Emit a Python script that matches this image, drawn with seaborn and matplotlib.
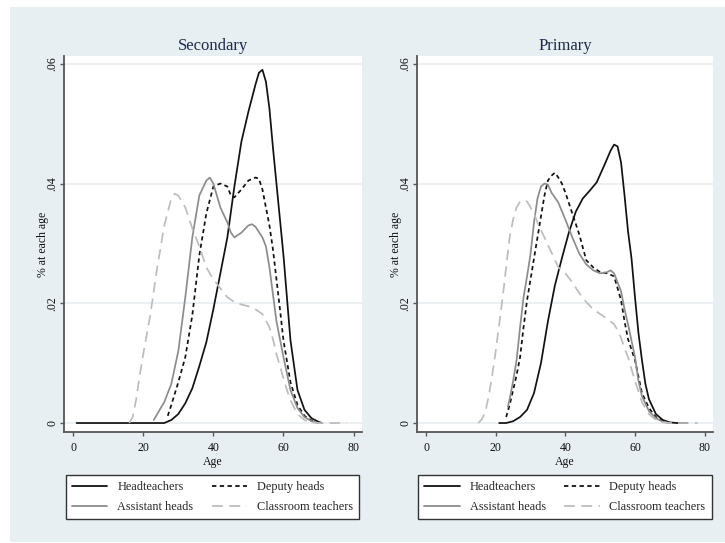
import matplotlib
matplotlib.use("Agg")
import matplotlib.pyplot as plt
from matplotlib.lines import Line2D
from matplotlib.patches import Rectangle
import pandas as pd
import seaborn as sns

# age distributions (share of staff at each age)
sec_head_age = [1, 10, 20, 26, 28, 30, 32, 34, 36, 38, 40, 42, 44, 46, 48, 50, 52, 53, 54, 55,
                56, 57, 58, 60, 62, 64, 66, 68, 70, 71]
sec_head_val = [0, 0, 0, 0, 0.0005, 0.0015, 0.0033, 0.0058, 0.0095, 0.0135, 0.019, 0.025, 0.031,
                0.0395, 0.047, 0.052, 0.0565, 0.0585, 0.059, 0.057, 0.0525, 0.046, 0.040, 0.028,
                0.0138, 0.0055, 0.0022, 0.0008, 0.0002, 0]

sec_dep_age = [27, 28, 30, 32, 34, 36, 38, 40, 42, 44, 45, 46, 48, 50, 52, 53, 54, 55, 56, 57,
               58, 59, 60, 62, 64, 66, 68, 70]
sec_dep_val = [0.0012, 0.003, 0.0068, 0.011, 0.018, 0.028, 0.035, 0.0395, 0.040, 0.0395, 0.038,
               0.0377, 0.039, 0.0405, 0.041, 0.0408, 0.039, 0.036, 0.033, 0.029, 0.024, 0.019,
               0.0138, 0.0068, 0.003, 0.0012, 0.0004, 0]

sec_ast_age = [23, 24, 26, 28, 30, 32, 34, 36, 38, 39, 40, 42, 44, 45, 46, 48, 50, 51, 52, 54,
               55, 56, 57, 58, 60, 62, 64, 66, 68, 70]
sec_ast_val = [0.0005, 0.0015, 0.0035, 0.0065, 0.012, 0.021, 0.031, 0.038, 0.0405, 0.041, 0.040,
               0.036, 0.0335, 0.0318, 0.031, 0.0318, 0.033, 0.0332, 0.0328, 0.031, 0.0295, 0.026,
               0.0215, 0.017, 0.011, 0.0055, 0.0025, 0.001, 0.0003, 0]

sec_cls_age = [16, 17, 18, 19, 20, 22, 24, 26, 28, 29, 30, 32, 34, 36, 38, 40, 42, 44, 46, 48,
               50, 52, 54, 56, 57, 58, 60, 61, 62, 64, 66, 68, 70, 78]
sec_cls_val = [0, 0.001, 0.004, 0.008, 0.0115, 0.018, 0.026, 0.033, 0.0375, 0.0383, 0.038, 0.036,
               0.0325, 0.0295, 0.026, 0.024, 0.0225, 0.021, 0.0202, 0.0198, 0.0195, 0.019, 0.0182,
               0.016, 0.014, 0.0115, 0.0075, 0.0055, 0.0038, 0.0015, 0.0005, 0.0001, 0, 0]

pri_head_age = [21, 23, 25, 27, 29, 31, 33, 35, 37, 39, 41, 43, 45, 47, 49, 51, 53, 54, 55, 56,
                57, 58, 59, 60, 61, 62, 63, 64, 66, 68, 70, 72, 75]
pri_head_val = [0, 0, 0.0003, 0.001, 0.0022, 0.005, 0.010, 0.017, 0.023, 0.0275, 0.0318, 0.0353,
                0.0375, 0.0388, 0.0402, 0.0428, 0.0455, 0.0465, 0.0462, 0.0435, 0.038, 0.032,
                0.0275, 0.021, 0.015, 0.0105, 0.0065, 0.004, 0.0015, 0.0005, 0.0001, 0, 0]

pri_dep_age = [23, 24, 25, 26, 27, 28, 29, 30, 31, 32, 33, 34, 35, 36, 37, 38, 39, 40, 42, 44,
               46, 48, 50, 52, 54, 55, 56, 57, 58, 60, 62, 64, 66, 68, 70]
pri_dep_val = [0.001, 0.003, 0.0055, 0.008, 0.011, 0.016, 0.0205, 0.024, 0.0275, 0.031, 0.0345,
               0.038, 0.0405, 0.0413, 0.0418, 0.041, 0.040, 0.0385, 0.035, 0.0315, 0.0272, 0.026,
               0.0252, 0.025, 0.0245, 0.0225, 0.0205, 0.017, 0.014, 0.0105, 0.005, 0.0025, 0.001,
               0.0003, 0]

pri_ast_age = [23.5, 24, 25, 26, 27, 28, 29, 30, 31, 32, 33, 34, 35, 36, 38, 40, 42, 44, 46, 48,
               50, 52, 53, 54, 55, 56, 57, 58, 60, 61, 62, 64, 66, 68, 70]
pri_ast_val = [0.0027, 0.004, 0.007, 0.0105, 0.016, 0.021, 0.0245, 0.0282, 0.0335, 0.0375,
               0.0395, 0.040, 0.0398, 0.0385, 0.0368, 0.034, 0.031, 0.0283, 0.0265, 0.0255, 0.025,
               0.0252, 0.0255, 0.025, 0.0235, 0.022, 0.019, 0.0165, 0.011, 0.007, 0.0045, 0.002,
               0.0008, 0.0002, 0]

pri_cls_age = [15, 16, 17, 18, 19, 20, 21, 22, 23, 24, 25, 26, 27, 28, 29, 30, 31, 32, 34, 36,
               38, 40, 42, 44, 46, 48, 50, 52, 54, 55, 56, 57, 58, 60, 62, 64, 66, 68, 70, 78]
pri_cls_val = [0, 0.0006, 0.0018, 0.0045, 0.008, 0.012, 0.0165, 0.021, 0.026, 0.031, 0.034, 0.036,
               0.037, 0.0372, 0.037, 0.036, 0.035, 0.0335, 0.031, 0.0285, 0.026, 0.025, 0.0235,
               0.0217, 0.0202, 0.019, 0.0182, 0.0174, 0.0165, 0.0155, 0.0142, 0.0125, 0.011,
               0.007, 0.0035, 0.0015, 0.0005, 0.0001, 0, 0]

groups = ["Headteachers", "Deputy heads", "Assistant heads", "Classroom teachers"]
panels = ["Secondary", "Primary"]
x_ticks = [0, 20, 40, 60, 80]
y_ticks = [0, 0.02, 0.04, 0.06]
y_tick_labels = ["0", ".02", ".04", ".06"]

panel_data = {
    "Secondary": [(sec_head_age, sec_head_val), (sec_dep_age, sec_dep_val),
                  (sec_ast_age, sec_ast_val), (sec_cls_age, sec_cls_val)],
    "Primary": [(pri_head_age, pri_head_val), (pri_dep_age, pri_dep_val),
                (pri_ast_age, pri_ast_val), (pri_cls_age, pri_cls_val)],
}

# line look per group: colour, dash pattern
styles = {
    "Headteachers": ("#111111", None),
    "Deputy heads": ("#111111", (2.4, 1.9)),
    "Assistant heads": ("#8c8c8c", None),
    "Classroom teachers": ("#bdbdbd", (6.0, 3.6)),
}

sns.set_style("white")
plt.rcParams['font.family'] = ['Liberation Serif', 'DejaVu Serif']

fig = plt.figure(figsize=(7.25, 5.43), dpi=100)
fig.patch.set_facecolor("white")
fig.patches.append(Rectangle((10 / 725, 1 / 543), 1 - 10 / 725, 535 / 543,
                             transform=fig.transFigure, facecolor="#e8eff2",
                             edgecolor="none", zorder=-5))

ax_pos = {"Secondary": [64 / 725, 1 - 432 / 543, 298 / 725, 376 / 543],
          "Primary": [417 / 725, 1 - 432 / 543, 296 / 725, 376 / 543]}
leg_anchor = {"Secondary": (212.5 / 725, 1 - 469 / 543),
              "Primary": (565 / 725, 1 - 469 / 543)}

# legend filled row by row: Headteachers, Deputy / Assistant, Classroom
leg_order = ["Headteachers", "Assistant heads", "Deputy heads", "Classroom teachers"]

for panel in panels:
    ax = fig.add_axes(ax_pos[panel])
    ax.set_facecolor("white")
    for yt in y_ticks:
        ax.axhline(yt, color="#e8eff2", lw=1.3, zorder=0)
    for grp, (ages, vals) in zip(groups, panel_data[panel]):
        df = pd.DataFrame({"Age": ages, "share": vals})
        col, dash = styles[grp]
        kw = {"dashes": dash} if dash else {}
        sns.lineplot(data=df, x="Age", y="share", ax=ax, color=col, lw=1.25,
                     estimator=None, sort=False, **kw)
    ax.set_xlim(-2.6, 82.4)
    ax.set_ylim(-0.0015, 0.0613)
    ax.set_xticks(x_ticks)
    ax.set_yticks(y_ticks)
    ax.set_yticklabels(y_tick_labels, rotation=90, va="center")
    ax.tick_params(axis="both", direction="out", length=3, width=1, color="#555555",
                   labelsize=8.5, pad=4, left=True, bottom=True, labelcolor="#111111")
    ax.tick_params(axis="y", pad=1)
    for side in ["top", "right"]:
        ax.spines[side].set_visible(False)
    for side in ["left", "bottom"]:
        ax.spines[side].set_color("#555555")
        ax.spines[side].set_linewidth(1.3)
    ax.set_xlabel("Age", fontsize=8.5, labelpad=2, color="#111111")
    ax.set_ylabel("% at each age", fontsize=8.5, labelpad=-2, color="#111111")
    ax.set_title(panel, fontsize=12, color="#1c2a4a", pad=4)

    handles = []
    for grp in leg_order:
        col, dash = styles[grp]
        h = Line2D([], [], color=col, lw=1.3)
        if dash:
            h.set_dashes(dash)
        handles.append(h)
    leg = fig.legend(handles, leg_order, ncol=2, loc="upper center",
                     bbox_to_anchor=leg_anchor[panel], frameon=True, fancybox=False,
                     framealpha=1, fontsize=8.8, handlelength=2.9, columnspacing=1.5,
                     handletextpad=0.8, borderpad=0.5, labelspacing=0.65)
    leg.get_frame().set_edgecolor("#333333")
    leg.get_frame().set_linewidth(1.0)
    leg.get_frame().set_facecolor("white")

fig.savefig("out.png", dpi=100, facecolor="white")
